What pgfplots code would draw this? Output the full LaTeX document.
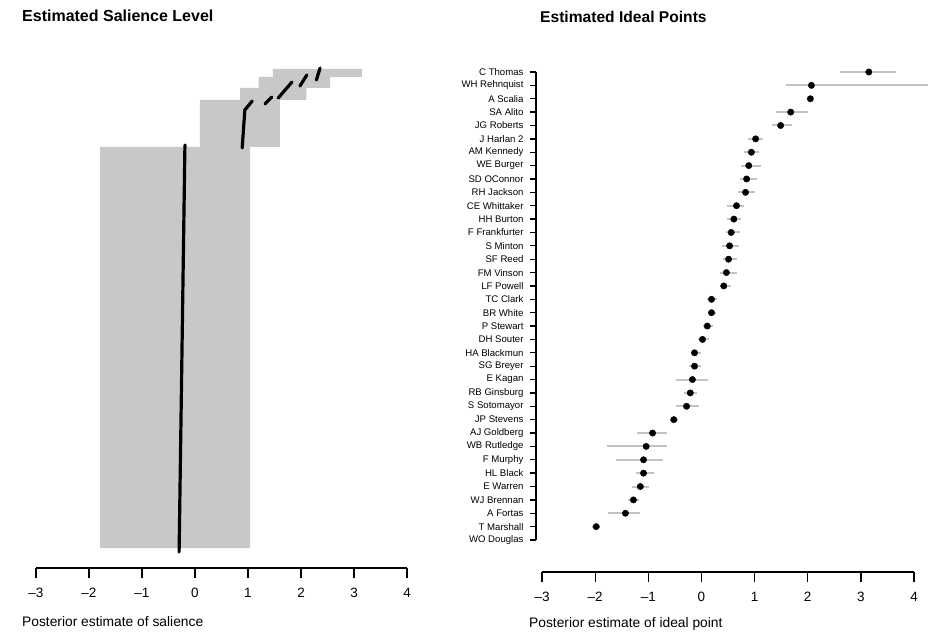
\documentclass[border=0pt]{standalone}
\usepackage{pgfplots}
\usepackage{pgfplotstable}
\pgfplotsset{compat=1.18}
\usepackage{fontspec}
\setmainfont{Liberation Sans}
\definecolor{band}{RGB}{200,200,200}
\definecolor{ci}{RGB}{195,195,195}

\pgfplotstableread{
i m lo hi
1 3.15 2.60 3.67
2 2.07 1.60 4.30
3 2.05 2.05 2.05
4 1.68 1.41 2.00
5 1.49 1.32 1.71
6 1.02 0.87 1.15
7 0.94 0.81 1.09
8 0.89 0.75 1.13
9 0.85 0.73 1.04
10 0.83 0.68 1.00
11 0.66 0.49 0.81
12 0.61 0.49 0.75
13 0.56 0.47 0.72
14 0.53 0.38 0.70
15 0.51 0.40 0.66
16 0.47 0.34 0.66
17 0.42 0.34 0.56
18 0.19 0.10 0.30
19 0.19 0.12 0.28
20 0.11 0.02 0.21
21 0.02 -0.07 0.15
22 -0.13 -0.19 0.00
23 -0.13 -0.23 0.00
24 -0.17 -0.47 0.13
25 -0.21 -0.32 -0.08
26 -0.28 -0.47 -0.04
27 -0.52 -0.60 -0.45
28 -0.92 -1.21 -0.64
29 -1.04 -1.77 -0.64
30 -1.09 -1.60 -0.73
31 -1.09 -1.23 -0.89
32 -1.15 -1.30 -0.98
33 -1.28 -1.39 -1.17
34 -1.43 -1.75 -1.15
35 -1.98 -2.05 -1.90
}\ideal

\begin{document}
\begin{tikzpicture}[x=1pt,y=1pt]
\useasboundingbox (0,0) rectangle (928,640);

% ---------------- left panel: salience ----------------
\begin{axis}[at={(36pt,72pt)}, anchor=south west, scale only axis,
  width=371pt, height=508pt,
  xmin=-3, xmax=4, ymin=-18, ymax=490,
  axis x line=bottom, axis y line=none,
  axis line style={-, line width=1.3pt, black},
  xtick={-3,...,4}, xticklabels={--3,--2,--1,0,1,2,3,4},
  tick align=outside, major tick length=10pt,
  tick style={line width=1.3pt, black},
  xticklabel style={font=\fontsize{13.5}{15}\selectfont, yshift=-7pt},
  clip=false]
\addplot[fill=band, draw=none] coordinates {
 (-1.79,2) (1.04,2) (1.04,403) (1.60,403) (1.60,450) (2.10,450) (2.10,462)
 (2.55,462) (2.55,473) (3.15,473) (3.15,481) (1.47,481) (1.47,473)
 (1.20,473) (1.20,462) (0.85,462) (0.85,450) (0.09,450) (0.09,403) (-1.79,403)
} -- cycle;
\addplot[black, line width=3.2pt, line cap=round] coordinates {(-0.30,-2) (-0.19,405)};
\addplot[black, line width=3.2pt, line cap=round] coordinates {(0.89,402) (0.94,440) (1.08,449)};
\addplot[black, line width=3.2pt, line cap=round] coordinates {(1.32,446) (1.45,453)};
\addplot[black, line width=3.2pt, line cap=round] coordinates {(1.57,452) (1.83,468)};
\addplot[black, line width=3.2pt, line cap=round] coordinates {(1.98,464) (2.11,475)};
\addplot[black, line width=3.2pt, line cap=round] coordinates {(2.29,470) (2.36,482)};
\end{axis}

% ---------------- right panel: ideal points ----------------
\begin{axis}[at={(536pt,100pt)}, anchor=south west, scale only axis,
  width=378pt, height=468pt,
  xmin=-3.113, xmax=4, ymin=1, ymax=36, y dir=reverse,
  axis y line=left, axis x line=none,
  axis line style={-, line width=1.3pt, black},
  ytick={1,...,36},
  yticklabels={C Thomas, WH Rehnquist, A Scalia, SA Alito, JG Roberts, J Harlan 2,
    AM Kennedy, WE Burger, SD OConnor, RH Jackson, CE Whittaker, HH Burton,
    F Frankfurter, S Minton, SF Reed, FM Vinson, LF Powell, TC Clark, BR White,
    P Stewart, DH Souter, HA Blackmun, SG Breyer, E Kagan, RB Ginsburg,
    S Sotomayor, JP Stevens, AJ Goldberg, WB Rutledge, F Murphy, HL Black,
    E Warren, WJ Brennan, A Fortas, T Marshall, WO Douglas},
  tick align=outside, major tick length=6pt,
  tick style={line width=1.3pt, black},
  yticklabel style={font=\fontsize{9.6}{10}\selectfont, xshift=-3pt},
  clip=false]
\addplot[only marks, mark=none, error bars/.cd, x dir=both, x explicit,
  error mark=none, error bar style={ci, line width=2pt}]
  table[x=m, y=i, x error plus expr=\thisrow{hi}-\thisrow{m},
        x error minus expr=\thisrow{m}-\thisrow{lo}] {\ideal};
\addplot[only marks, mark=*, mark size=3.2pt, black] table[x=m, y=i] {\ideal};
\end{axis}

\begin{axis}[at={(542pt,68pt)}, anchor=south west, scale only axis,
  width=372pt, height=20pt,
  xmin=-3, xmax=4, ymin=0, ymax=1,
  axis x line=bottom, axis y line=none,
  axis line style={-, line width=1.3pt, black},
  xtick={-3,...,4}, xticklabels={--3,--2,--1,0,1,2,3,4},
  tick align=outside, major tick length=10pt,
  tick style={line width=1.3pt, black},
  xticklabel style={font=\fontsize{13.5}{15}\selectfont, yshift=-7pt}]
\end{axis}

% titles and axis labels
\node[anchor=base west, inner sep=0pt, font=\fontsize{16}{18}\selectfont\bfseries] at (22,618) {Estimated Salience Level};
\node[anchor=base west, inner sep=0pt, font=\fontsize{15.6}{18}\selectfont\bfseries] at (540,617) {Estimated Ideal Points};
\node[anchor=base west, inner sep=0pt, font=\fontsize{13.8}{16}\selectfont] at (22,14) {Posterior estimate of salience};
\node[anchor=base west, inner sep=0pt, font=\fontsize{13.8}{16}\selectfont] at (529,13) {Posterior estimate of ideal point};
\end{tikzpicture}
\end{document}
